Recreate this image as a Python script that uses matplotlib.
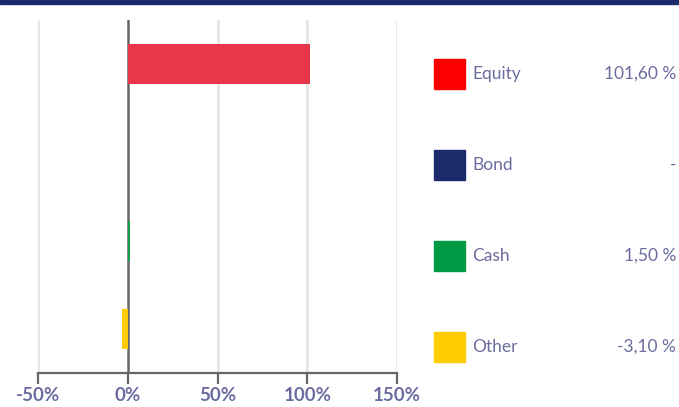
import matplotlib
matplotlib.use("Agg")
import matplotlib.pyplot as plt
from matplotlib.patches import Rectangle

categories = ["Equity", "Bond", "Cash", "Other"]
values = [101.60, None, 1.50, -3.10]
bar_colors = ["#E8374A", "#1B2A6B", "#10A04A", "#FFCC00"]
legend_colors = ["#FF0000", "#1B2A6B", "#009A44", "#FFCC00"]
xticks = [-50, 0, 50, 100, 150]
xtick_labels = ["-50%", "0%", "50%", "100%", "150%"]

W, H = 679, 407
fig = plt.figure(figsize=(W / 100, H / 100), dpi=100)
text_color = "#6B6BA0"
font = "Lato"

# top band
fig.patches.append(Rectangle((0, 1 - 4 / H), 1, 4 / H, transform=fig.transFigure,
                             color="#1B2A6B", zorder=0))

ax_left, ax_right, ax_top, ax_bottom = 38, 397, 20, 373
ax = fig.add_axes([ax_left / W, (H - ax_bottom) / H, (ax_right - ax_left) / W,
                   (ax_bottom - ax_top) / H])
ax.set_xlim(-50, 150)
ax.set_ylim(len(categories) - 0.5, -0.5)
for s in ["top", "right", "left"]:
    ax.spines[s].set_visible(False)
ax.spines["bottom"].set_color("#666666")
ax.spines["bottom"].set_linewidth(1.6)
ax.set_yticks([])
ax.set_xticks(xticks)
ax.set_xticklabels(xtick_labels, fontsize=13.5, color=text_color, fontfamily=font,
                   fontweight="bold")
ax.tick_params(axis="x", length=8, width=1.6, color="#666666", pad=2)
for t in xticks:
    if t == 0:
        ax.axvline(t, color="#666666", lw=1.8, zorder=1)
    else:
        ax.axvline(t, color="#E3E3E3", lw=1.8, zorder=0)

for i, (v, c) in enumerate(zip(values, bar_colors)):
    if v is not None:
        ax.barh(i, v, height=0.455, color=c, zorder=2)

# legend
legend_y = [74, 165, 256, 347]
for cat, v, c, y in zip(categories, values, legend_colors, legend_y):
    fig.patches.append(Rectangle((434 / W, (H - y - 15) / H), 31 / W, 30 / H,
                                 transform=fig.transFigure, color=c))
    fig.text(472 / W, (H - y) / H, cat, fontsize=12.5, color=text_color,
             fontfamily=font, va="center", ha="left")
    vs = "-" if v is None else (f"{v:.2f}".replace(".", ",") + " %")
    fig.text(676 / W, (H - y) / H, vs, fontsize=12.5, color=text_color,
             fontfamily=font, va="center", ha="right")

fig.savefig("out.png", dpi=100)
